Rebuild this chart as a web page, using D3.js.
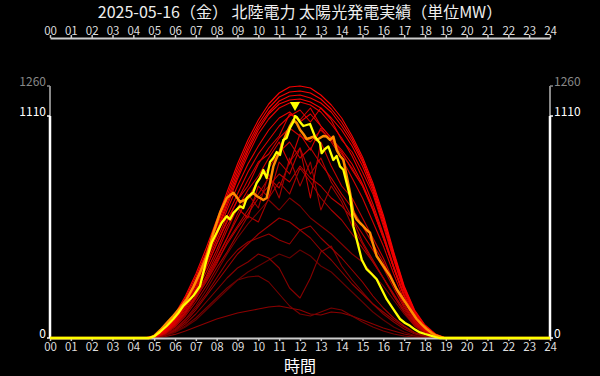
<!DOCTYPE html>
<html>
<head>
<meta charset="utf-8">
<script src="https://cdn.jsdelivr.net/npm/d3@7"></script>
<style>
html,body{margin:0;padding:0;background:#000;}
svg{display:block;}
text{font-family:"Noto Sans CJK JP","Noto Sans",sans-serif;}
</style>
</head>
<body>
<svg id="chart" width="600" height="376"></svg>
<script>
// ---------- DATA ----------
const title = "2025-05-16（金） 北陸電力 太陽光発電実績（単位MW）";
const xLabel = "時間";
const hourTicks = d3.range(0, 25);
const hourTickLabels = hourTicks.map(h => String(h).padStart(2, "0"));
const yTickValues = [0, 1110, 1260];

// past days: values every 30 minutes from 04:30 to 19:30
const pastHours = [4.5,5,5.5,6,6.5,7,7.5,8,8.5,9,9.5,10,10.5,11,11.5,12,12.5,13,13.5,14,14.5,15,15.5,16,16.5,17,17.5,18,18.5,19,19.5];
const pastDaysAgo = [22,26,29,23,21,19,24,17,15,13,18,11,12,9,10,8,7,5,6,3,4,2,2];
const pastValues = [
  [0,1,6,18,35,55,75,95,110,125,135,145,155,160,150,140,120,115,130,125,110,90,70,50,35,20,10,4,1,0,0],
  [0,1,10,30,60,100,150,200,250,290,305,310,280,220,160,120,110,130,150,140,110,80,55,35,20,10,4,1,0,0,0],
  [0,1,10,28,55,90,140,190,240,290,330,360,390,420,400,440,410,360,330,280,230,180,130,90,55,30,12,4,1,0,0],
  [0,1,12,35,70,120,180,240,300,350,380,420,400,350,250,200,300,430,460,360,290,230,170,120,80,45,20,8,2,0,0],
  [0,2,15,45,90,150,220,300,380,440,480,500,520,490,470,540,500,440,390,330,270,220,170,130,90,55,25,10,2,0,0],
  [0,2,14,40,80,140,210,280,350,420,470,520,560,600,580,540,560,500,450,400,340,280,210,150,100,60,28,10,2,0,0],
  [0,2,15,45,95,160,240,330,420,500,570,630,690,640,700,660,600,560,520,470,420,380,320,260,190,120,60,22,5,0,0],
  [0,2,18,55,110,180,260,350,430,520,610,580,700,780,720,850,780,700,640,590,520,450,380,300,210,130,65,25,5,0,0],
  [0,2,20,60,120,200,280,370,480,560,640,720,800,750,880,950,820,900,780,700,600,480,390,300,220,140,70,25,5,0,0],
  [0,3,20,60,125,205,290,380,470,550,620,700,760,820,780,860,800,760,700,660,600,520,440,350,250,150,75,28,6,0,0],
  [0,2,20,58,118,195,285,390,500,620,720,650,820,700,900,760,880,640,760,680,560,470,380,300,210,130,60,22,5,0,0],
  [0,3,22,65,130,210,300,400,500,600,700,790,850,930,980,900,950,870,800,720,650,560,470,380,270,160,80,30,6,0,0],
  [0,3,22,65,130,215,310,420,540,650,600,760,700,880,820,950,700,980,860,760,700,600,500,400,280,170,85,32,7,0,0],
  [0,3,25,70,140,230,330,440,560,650,740,810,900,980,870,1020,940,1050,980,900,800,700,580,460,320,190,90,35,8,0,0],
  [0,4,28,80,155,245,355,470,580,690,790,880,920,1000,1050,1010,980,1040,990,920,850,760,640,500,350,210,100,40,8,0,0],
  [0,3,25,75,150,240,350,470,590,690,760,870,950,1010,1120,1090,1150,1060,1000,930,840,760,640,500,350,210,100,40,8,0,0],
  [0,4,30,85,160,255,370,490,610,720,830,920,990,1060,1110,1140,1080,1150,1090,990,930,830,720,560,390,230,115,45,10,0,0],
  [0,4,32,90,170,265,385,510,640,760,870,960,1040,1100,1130,1080,1120,1060,1000,940,870,770,650,510,350,210,105,40,9,0,0],
  [0,5,35,90,170,270,395,525,660,795,915,1020,1095,1150,1175,1180,1165,1130,1070,1000,910,800,670,520,360,215,110,45,10,0,0],
  [0,5,35,95,175,275,400,535,675,810,935,1040,1120,1170,1190,1195,1180,1150,1100,1040,960,860,735,575,400,240,125,50,12,0,0],
  [0,6,40,100,185,290,420,555,690,830,950,1055,1130,1185,1210,1215,1200,1175,1130,1060,980,880,750,590,410,245,130,55,15,0,0],
  [0,8,45,110,200,305,430,570,710,850,970,1070,1150,1205,1230,1235,1225,1195,1145,1080,995,890,760,600,420,255,135,60,18,0,0],
  [0,10,50,120,210,320,450,590,730,870,990,1090,1170,1225,1255,1260,1250,1215,1165,1100,1010,905,775,615,430,260,140,65,20,0,0]
];

// yesterday (05-15)
const yesterdayHours = [0,4.75,5.0,5.3,5.6,5.92,6.24,6.56,6.88,7.2,7.52,7.84,8.16,8.48,8.8,8.96,9.12,9.44,9.76,9.92,10.08,10.24,10.4,10.56,10.72,10.88,11.04,11.2,11.36,11.52,11.68,11.84,12.0,12.16,12.32,12.48,12.64,12.8,12.96,13.12,13.28,13.44,13.6,13.76,13.92,14.08,14.24,14.4,14.56,14.72,14.88,15.04,15.2,15.36,15.44,15.68,15.84,16.0,16.32,16.64,16.96,17.28,17.6,17.84,18.08,18.32,18.56,18.9,24];
const yesterdayValues = [0,0,10,40,75,111,150,194,255,327,410,526,626,700,726,705,680,695,726,710,700,690,700,775,858,900,935,985,1024,1060,1090,1075,1041,1020,995,1000,1007,990,1000,1010,1007,991,1007,941,910,891,810,726,626,593,575,559,540,526,493,410,385,360,310,244,194,144,95,68,45,25,11,0,0];

// today (05-16)
const todayHours = [0,4.75,5.0,5.28,5.6,5.92,6.16,6.4,6.64,6.88,7.04,7.2,7.36,7.52,7.76,8.0,8.24,8.48,8.64,8.8,8.96,9.12,9.28,9.44,9.6,9.76,9.92,10.08,10.24,10.4,10.56,10.72,10.88,11.04,11.2,11.36,11.52,11.68,11.76,11.84,12.0,12.16,12.32,12.48,12.72,12.96,13.04,13.2,13.36,13.6,13.76,13.92,14.08,14.24,14.4,14.48,14.56,14.72,14.96,15.2,15.44,15.68,15.92,16.16,16.48,16.8,17.04,17.28,17.52,17.76,18.0,18.24,18.5,18.7,24];
const todayValues = [0,0,8,30,60,95,125,161,185,211,235,260,327,393,476,526,576,609,593,625,642,659,650,700,715,730,775,800,840,800,880,900,930,915,990,1000,1050,1080,1110,1105,1080,1060,1065,1070,1007,974,924,945,958,890,910,858,841,775,709,642,559,493,393,344,320,294,244,194,144,95,75,61,42,28,20,13,5,0,0];

// ---------- CHART ----------
const svg = d3.select("#chart");
const x = d3.scaleLinear().domain([0, 24]).range([50, 550]);
const y = d3.scaleLinear().domain([0, 1260]).range([338, 86]);
const color = d3.scaleLinear().domain([30, 1]).range(["#600000", "#ff0000"]);

svg.append("rect").attr("width", 600).attr("height", 376).attr("fill", "#000");

svg.append("text").attr("x", 300).attr("y", 17.5).attr("text-anchor", "middle")
  .attr("fill", "#eeeeee").attr("font-size", 16).text(title);

const line = d3.line().x(d => x(d[0])).y(d => y(d[1]));

const pastG = svg.append("g");
pastValues.forEach((vals, i) => {
  const pts = [[0, 0]].concat(pastHours.map((h, j) => [h, vals[j]])).concat([[24, 0]]);
  pastG.append("path").attr("d", line(pts)).attr("fill", "none")
    .attr("stroke", color(pastDaysAgo[i])).attr("stroke-width", 1.1)
    .attr("stroke-linejoin", "round");
});

// axes
function styleAxis(g) {
  g.select(".domain").attr("stroke", "#cccccc").attr("stroke-width", 2);
  g.selectAll(".tick line").attr("stroke", "#cccccc").attr("stroke-width", 1.5);
  g.selectAll(".tick text").attr("fill", "#dddddd").attr("font-size", 11.5)
    .attr("font-family", '"Noto Sans CJK JP","Noto Sans",sans-serif');
}
const topAxis = d3.axisTop(x).tickValues(hourTicks).tickFormat((d, i) => hourTickLabels[i]).tickSize(3).tickSizeOuter(0).tickPadding(0);
svg.append("g").attr("transform", "translate(0,38)").call(topAxis).call(styleAxis);
const botAxis = d3.axisBottom(x).tickValues(hourTicks).tickFormat((d, i) => hourTickLabels[i]).tickSize(3).tickSizeOuter(0).tickPadding(2);
svg.append("g").attr("transform", "translate(0,338)").call(botAxis).call(styleAxis);

function yAxisSide(g, xpos, sign) {
  g.append("line").attr("x1", xpos).attr("x2", xpos).attr("y1", y(1110)).attr("y2", y(1260))
    .attr("stroke", "#888888").attr("stroke-width", 2);
  g.append("line").attr("x1", xpos).attr("x2", xpos).attr("y1", y(0)).attr("y2", y(1110))
    .attr("stroke", "#ffffff").attr("stroke-width", 2.5);
  yTickValues.forEach(v => {
    const c = v === 1260 ? "#888888" : "#ffffff";
    g.append("line").attr("x1", xpos).attr("x2", xpos + sign * 3).attr("y1", y(v)).attr("y2", y(v))
      .attr("stroke", c).attr("stroke-width", 1.5);
    g.append("text").attr("x", xpos + sign * 4).attr("y", y(v) - 4).attr("dy", "0.35em")
      .attr("text-anchor", sign < 0 ? "end" : "start").attr("fill", c).attr("font-size", 12)
      .text(v);
  });
}
yAxisSide(svg.append("g"), x(0), -1);
yAxisSide(svg.append("g"), x(24), 1);

svg.append("text").attr("x", 300).attr("y", 372).attr("text-anchor", "middle")
  .attr("fill", "#ffffff").attr("font-size", 16).text(xLabel);

// yesterday & today
svg.append("path").attr("d", line(yesterdayHours.map((h, j) => [h, yesterdayValues[j]])))
  .attr("fill", "none").attr("stroke", "#ff8c00").attr("stroke-width", 2.5).attr("stroke-linejoin", "round");
svg.append("path").attr("d", line(todayHours.map((h, j) => [h, todayValues[j]])))
  .attr("fill", "none").attr("stroke", "#ffff00").attr("stroke-width", 2.3).attr("stroke-linejoin", "round");

// peak marker
const peakIdx = d3.maxIndex(todayValues);
const px = x(todayHours[peakIdx]), py = y(todayValues[peakIdx]) - 11;
svg.append("path").attr("d", d3.symbol().type(d3.symbolTriangle).size(45)())
  .attr("transform", `translate(${px},${py}) rotate(180)`).attr("fill", "#ffff00");
</script>
</body>
</html>
